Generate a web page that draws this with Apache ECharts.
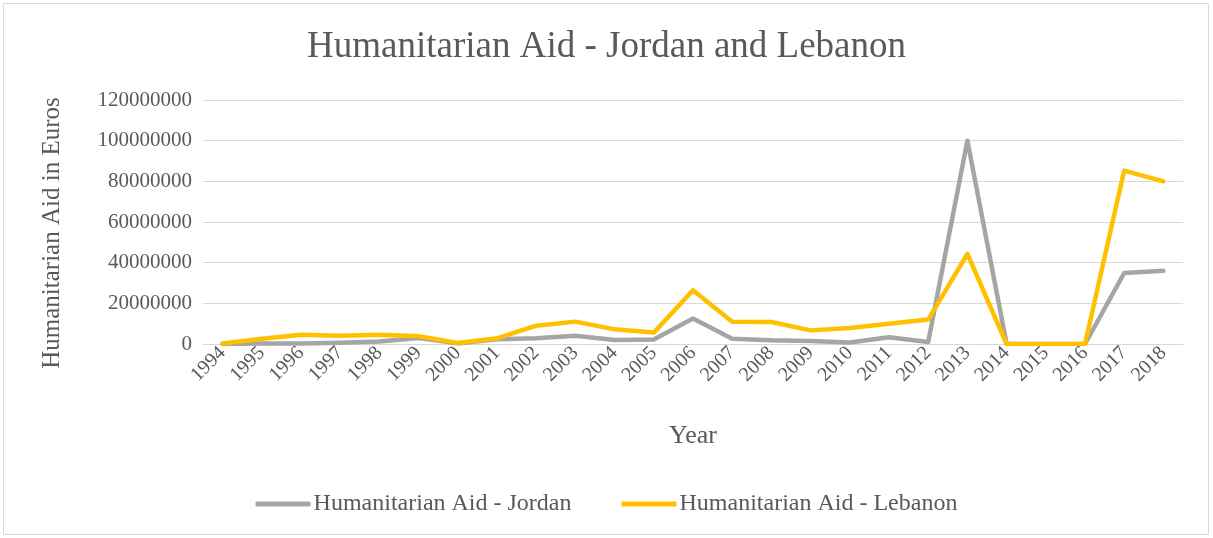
<!DOCTYPE html>
<html>
<head>
<meta charset="utf-8">
<script src="https://cdn.jsdelivr.net/npm/echarts@6/dist/echarts.min.js"></script>
<style>html,body{margin:0;padding:0;background:#fff;}#c{width:1213px;height:538px;}</style>
</head>
<body>
<div id="c"></div>
<script>
const years = ['1994','1995','1996','1997','1998','1999','2000','2001','2002','2003','2004','2005','2006','2007','2008','2009','2010','2011','2012','2013','2014','2015','2016','2017','2018'];
const jordan = [0, 200000, 300000, 600000, 1200000, 2900000, 300000, 2300000, 2800000, 4100000, 2000000, 2200000, 12500000, 2600000, 1800000, 1500000, 700000, 3300000, 1000000, 100000000, 0, 0, 0, 34900000, 36000000];
const lebanon = [200000, 2600000, 4500000, 4000000, 4500000, 3800000, 500000, 2800000, 9000000, 11000000, 7200000, 5600000, 26400000, 11000000, 10800000, 6700000, 7900000, 10000000, 12000000, 44300000, 0, 0, 0, 85300000, 80000000];
const seriesNames = ['Humanitarian Aid - Jordan', 'Humanitarian Aid - Lebanon'];
const yTicks = { min: 0, max: 120000000, interval: 20000000 };

const FONT = 'Liberation Serif';
const TXT = '#595959';
const chart = echarts.init(document.getElementById('c'), null, { renderer: 'canvas' });
chart.setOption({
  animation: false,
  backgroundColor: '#fff',
  graphic: [{
    type: 'rect', shape: { x: 3.5, y: 3.5, width: 1205, height: 531 },
    style: { fill: 'none', stroke: '#d9d9d9', lineWidth: 1 }, silent: true
  }],
  title: {
    text: 'Humanitarian Aid - Jordan and Lebanon',
    left: 'center', top: 24,
    textStyle: { fontFamily: FONT, fontSize: 37, fontWeight: 'normal', color: TXT }
  },
  legend: {
    bottom: 17, left: 'center',
    itemWidth: 55, itemHeight: 5, itemGap: 50,
    icon: 'roundRect',
    textStyle: { fontFamily: FONT, fontSize: 24, color: TXT, padding: [0, 0, 0, -2] },
    data: seriesNames
  },
  grid: { left: 203, right: 30, top: 100, bottom: 194, containLabel: false },
  xAxis: {
    type: 'category', data: years, boundaryGap: true,
    name: 'Year', nameLocation: 'middle', nameGap: 79,
    nameTextStyle: { fontFamily: FONT, fontSize: 26, color: TXT },
    axisLine: { show: true, lineStyle: { color: '#d9d9d9', width: 1 } },
    axisTick: { show: false },
    axisLabel: { rotate: 45, fontFamily: FONT, fontSize: 20, color: TXT, margin: 6, interval: 0 }
  },
  yAxis: {
    type: 'value', min: yTicks.min, max: yTicks.max, interval: yTicks.interval,
    name: 'Humanitarian Aid in Euros', nameLocation: 'middle', nameRotate: 90, nameGap: 138,
    nameTextStyle: { fontFamily: FONT, fontSize: 25, color: TXT, padding: [0, 22, 0, 0] },
    axisLine: { show: false }, axisTick: { show: false },
    splitLine: { lineStyle: { color: '#d9d9d9', width: 1 } },
    axisLabel: { fontFamily: FONT, fontSize: 21, color: TXT, margin: 11, formatter: v => String(v) }
  },
  series: [
    { name: seriesNames[0], type: 'line', data: jordan, symbol: 'none', color: '#a5a5a5',
      lineStyle: { width: 4.5, color: '#a5a5a5', cap: 'round', join: 'round' } },
    { name: seriesNames[1], type: 'line', data: lebanon, symbol: 'none', color: '#ffc000',
      lineStyle: { width: 4.5, color: '#ffc000', cap: 'round', join: 'round' } }
  ]
});
</script>
</body>
</html>
